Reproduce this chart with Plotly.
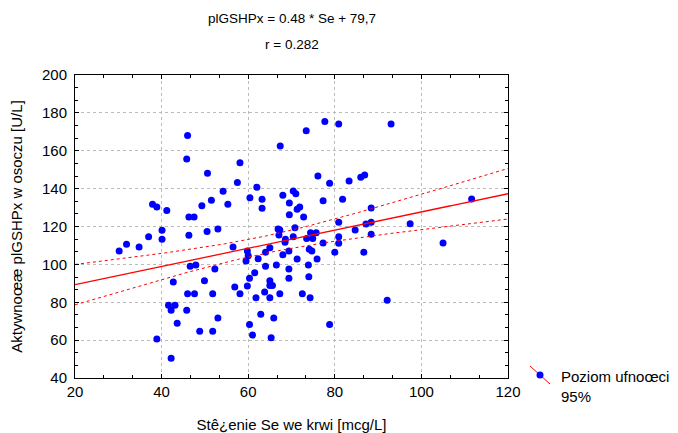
import numpy as np
import plotly.graph_objects as go

# Data
se = [30.2, 31.9, 34.8, 37.0, 40.1, 40.1, 46.3, 50.5, 53.0, 38.9, 42.2, 41.6, 43.1, 42.2, 43.6,
      42.7, 46.0, 47.6, 45.8, 46.6, 47.9, 48.8, 51.8, 49.9, 51.8, 52.3, 53.0, 56.5, 56.9, 58.1,
      59.8, 60.0, 59.5, 60.3, 59.8, 60.3, 61.0, 61.5, 61.8, 62.3, 62.9, 63.8, 64.0, 64.0, 65.0,
      65.0, 65.0, 65.6, 65.0, 65.9, 65.3, 66.5, 67.3, 68.0, 66.9, 67.3, 67.1, 68.6, 69.4, 69.4,
      69.4, 46.0, 45.8, 58.1, 50.6, 57.5, 54.2, 37.9, 38.9, 41.2, 46.3, 47.5, 49.3, 51.5, 55.3,
      60.4, 77.7, 80.9, 73.4, 67.4, 76.1, 78.8, 83.3, 62.0, 63.2, 63.2, 68.0, 70.4, 71.0, 69.5,
      71.3, 71.9, 69.5, 72.8, 77.3, 81.8, 70.8, 80.9, 84.7, 70.4, 74.4, 75.7, 73.5, 74.9, 80.9,
      68.5, 71.3, 74.1, 74.7, 75.9, 77.3, 80.0, 80.9, 73.9, 74.0, 72.5, 74.3, 78.8, 93.0, 86.0,
      86.9, 88.4, 87.2, 88.4, 88.4, 97.4, 86.7, 105.0, 111.6, 92.1]
gshpx = [107.1, 110.6, 109.2, 114.6, 118.0, 113.3, 115.4, 117.3, 118.7, 60.6, 50.4, 78.4, 78.4, 75.8, 68.9,
         90.7, 84.5, 84.5, 75.8, 99.0, 99.7, 64.7, 64.7, 91.4, 84.5, 97.6, 71.7, 109.2, 88.1, 84.5,
         107.1, 104.5, 101.8, 92.7, 88.6, 68.2, 62.7, 95.6, 82.4, 103.0, 73.6, 85.4, 106.4, 99.0, 108.8,
         91.4, 88.8, 88.8, 82.4, 71.7, 61.3, 99.7, 84.5, 105.1, 118.7, 118.1, 115.5, 113.3, 107.1, 97.6,
         92.7, 168.0, 155.6, 153.7, 148.1, 143.3, 138.6, 131.7, 130.3, 128.4, 125.0, 125.0, 131.0, 133.8, 131.7,
         135.2, 175.4, 174.1, 170.6, 162.5, 146.7, 142.8, 144.0, 140.7, 134.4, 129.6, 136.5, 138.8, 137.3, 132.4,
         129.1, 130.3, 126.2, 125.0, 133.6, 134.4, 119.4, 122.2, 118.2, 114.6, 116.7, 116.7, 113.6, 113.6, 114.6,
         111.7, 102.9, 108.0, 107.1, 102.9, 111.3, 106.4, 111.1, 99.7, 93.5, 84.5, 82.4, 68.2, 174.1, 146.0,
         147.2, 129.8, 121.3, 122.2, 115.9, 121.5, 106.4, 111.3, 134.5, 81.0]

# Regression (from the chart title) and 95% confidence band parameters
SLOPE = 0.48
INTERCEPT = 79.7
BAND_CENTER = 63.4      # x where the band is narrowest
BAND_A = 20.6           # squared half-width at the center
BAND_B = 0.04925        # growth of squared half-width

x_ticks = [20, 40, 60, 80, 100, 120]
y_ticks = [40, 60, 80, 100, 120, 140, 160, 180, 200]

title_lines = ["plGSHPx = 0.48 * Se + 79,7", "r = 0.282"]
x_title = "Stê¿enie Se we krwi [mcg/L]"
y_title = "Aktywnoœæ plGSHPx w osoczu [U/L]"
legend_text = "Poziom ufnoœci<br>95%"

xl = np.linspace(20, 120, 201)
yl = INTERCEPT + SLOPE * xl
hw = np.sqrt(BAND_A + BAND_B * (xl - BAND_CENTER) ** 2)

FONT = "Liberation Sans, Arial, sans-serif"

fig = go.Figure()
fig.add_trace(go.Scatter(x=se, y=gshpx, mode="markers",
                         marker=dict(color="#0000FF", size=7, line=dict(width=0)),
                         showlegend=False))
fig.add_trace(go.Scatter(x=xl, y=yl, mode="lines", line=dict(color="#FF0000", width=1.3),
                         showlegend=False))
fig.add_trace(go.Scatter(x=xl, y=yl + hw, mode="lines",
                         line=dict(color="#FF0000", width=1, dash="dot"), showlegend=False))
fig.add_trace(go.Scatter(x=xl, y=yl - hw, mode="lines",
                         line=dict(color="#FF0000", width=1, dash="dot"), showlegend=False))

# page body has an 8px margin, so the figure is drawn offset by 8px
OFF = 8
W, H = 670, 425
L, T = 75 - OFF, 75 - OFF
R = W - (508 - OFF)
B = H - (378 - OFF)

axis_common = dict(
    showline=True, linecolor="black", linewidth=1, mirror="allticks",
    ticks="inside", ticklen=4, tickcolor="black",
    showgrid=True, gridcolor="#BBBBBB", griddash="dot", gridwidth=1,
    zeroline=False, tickfont=dict(family=FONT, size=15, color="black"),
)

fig.update_xaxes(range=[20, 120], tickvals=x_ticks, ticktext=[str(v) for v in x_ticks],
                 minor=dict(tick0=20, dtick=20 / 3, ticks="inside", ticklen=3, tickcolor="black",
                            showgrid=False),
                 title=dict(text=x_title, font=dict(family=FONT, size=15, color="black"),
                            standoff=20),
                 **axis_common)
fig.update_yaxes(range=[40, 200], tickvals=y_ticks, ticktext=[str(v) for v in y_ticks],
                 minor=dict(tick0=40, dtick=20 / 3, ticks="inside", ticklen=3, tickcolor="black",
                            showgrid=False),
                 ticklabelstandoff=4,
                 title=dict(text=y_title, font=dict(family=FONT, size=15, color="black"),
                            standoff=18),
                 **axis_common)

pw = W - L - R
ph = H - T - B

def px2paper(sx, sy):
    # screen pixel -> paper coords
    return (sx - OFF - L) / pw, (H - B - (sy - OFF)) / ph

# Title as two annotations
for line, sy in zip(title_lines, [19, 45]):
    ax_, ay_ = px2paper(291.5, sy)
    fig.add_annotation(xref="paper", yref="paper", x=ax_, y=ay_, xanchor="center", yanchor="middle",
                       text=line, showarrow=False, font=dict(family=FONT, size=13.5, color="black"))

# Legend drawn manually
lx0, ly0 = px2paper(530, 366)
lx1, ly1 = px2paper(550, 384)
cx, cy = px2paper(540, 375)
fig.add_shape(type="line", xref="paper", yref="paper", x0=lx0, y0=ly0, x1=lx1, y1=ly1,
              line=dict(color="#FF0000", width=1))
dr = 3.5 / pw
drh = 3.5 / ph
fig.add_shape(type="circle", xref="paper", yref="paper", x0=cx - dr, x1=cx + dr, y0=cy - drh, y1=cy + drh,
              fillcolor="#0000FF", line=dict(width=0))
tx, ty = px2paper(559, 366)
fig.add_annotation(xref="paper", yref="paper", x=tx, y=ty, xanchor="left", yanchor="top",
                   text=legend_text, showarrow=False, align="left",
                   font=dict(family=FONT, size=15, color="black"))

fig.update_layout(
    width=W, height=H,
    margin=dict(l=L, r=R, t=T, b=B, autoexpand=False),
    paper_bgcolor="white", plot_bgcolor="white",
    font=dict(family=FONT, size=13, color="black"),
)

fig.write_html("out.html")
